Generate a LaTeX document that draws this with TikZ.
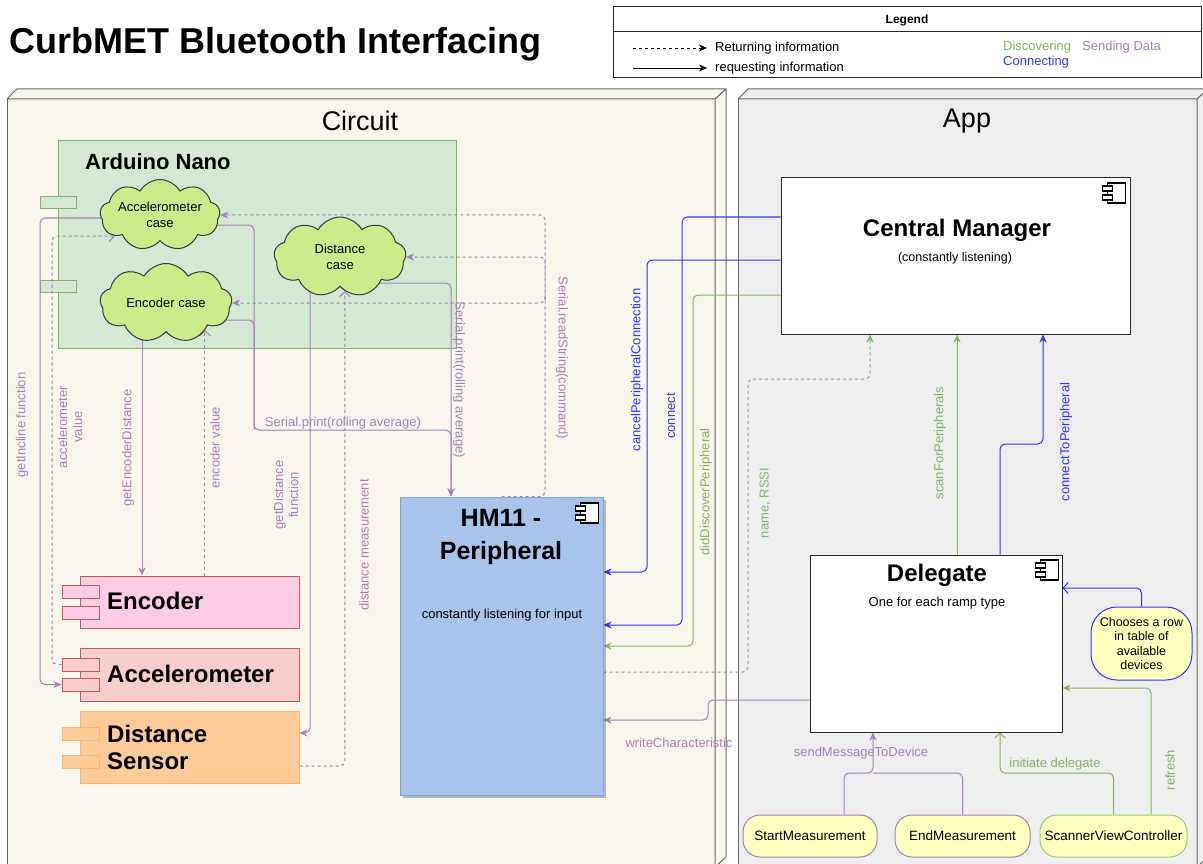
\documentclass[tikz,border=0pt]{standalone}
\usepackage{fontspec}
\setmainfont{Liberation Sans}
\usetikzlibrary{shapes.symbols,arrows.meta,shadows}
\pgfdeclarelayer{bg}
\pgfdeclarelayer{edges}
\pgfsetlayers{bg,edges,main}
\definecolor{circfill}{HTML}{F9F7ED}
\definecolor{appfill}{HTML}{EEEEEE}
\definecolor{cgray}{HTML}{666666}
\definecolor{ardfill}{HTML}{D5E8D4}
\definecolor{ardst}{HTML}{82B366}
\definecolor{cldfill}{HTML}{CDEB8B}
\definecolor{cldst}{HTML}{36393D}
\definecolor{encfill}{HTML}{FFCCE6}
\definecolor{redst}{HTML}{C65A5A}
\definecolor{accfill}{HTML}{F8CECC}
\definecolor{disfill}{HTML}{FFCC99}
\definecolor{disst}{HTML}{FFB570}
\definecolor{hmfill}{HTML}{A9C4EB}
\definecolor{hmst}{HTML}{7EA6E0}
\definecolor{ylw}{HTML}{FFFFC0}
\definecolor{cpur}{HTML}{A680B8}
\definecolor{cblu}{HTML}{3333FF}
\definecolor{cgrn}{HTML}{82B366}
\definecolor{svcst}{HTML}{97D077}
\newcommand\fsz[2]{\fontsize{#1}{#2}\selectfont}
\begin{document}
\begin{tikzpicture}[x=1pt,y=-1pt,
  tf/.style={-{Stealth[length=8pt,width=7pt,inset=2.5pt]}},
  topen/.style={-{Straight Barb[length=5pt,width=11pt]}},
  conn/.style={line width=1pt,rounded corners=5pt},
  ret/.style={dash pattern=on 3pt off 3pt},
  lbl/.style={inner sep=0pt,font=\fsz{13}{15}},
  txt/.style={inner sep=0pt},
  comp/.style={draw,line width=1pt,inner sep=0pt},
  tabbox/.style={draw,line width=1pt,inner sep=0pt,minimum width=37pt,minimum height=13pt},
  cloudbox/.style={cloud,cloud puffs=9,cloud puff arc=120,cloud ignores aspect,draw=cldst,fill=cldfill,line width=1pt,inner sep=0pt,align=center,font=\fsz{13}{15.5}},
  pill/.style={draw,line width=1pt,fill=ylw,rounded corners=17pt,inner sep=0pt,minimum height=42pt,font=\fsz{13.5}{15}},
  cont/.style={line width=1pt,draw=cgray,line join=round},
  compicon/.pic={
    \draw[line width=1.1pt,fill=white] (-6.5,-10) rectangle (11.5,10);
    \draw[line width=1.1pt,fill=white] (-11.5,-7) rectangle (-1.5,-2);
    \draw[line width=1.1pt,fill=white] (-11.5,2) rectangle (-1.5,7);
  }
]
\useasboundingbox (0,0) rectangle (1203,864);
\begin{pgfonlayer}{bg}
\fill[white] (0,0) rectangle (1203,864);
% Circuit container
\filldraw[cont,fill=circfill] (7,99) rectangle (715,870);
\filldraw[cont,fill=circfill] (7,99) -- (17,89) -- (726,89) -- (715,99) -- cycle;
\filldraw[cont,fill=circfill] (715,99) -- (726,89) -- (726,857) -- (715,867) -- cycle;
% App container
\filldraw[cont,fill=appfill] (738,99) rectangle (1197,870);
\filldraw[cont,fill=appfill] (738,99) -- (748,89) -- (1208,89) -- (1197,99) -- cycle;
\filldraw[cont,fill=appfill] (1197,99) -- (1208,89) -- (1208,857) -- (1197,867) -- cycle;
% Arduino
\node[comp,draw=ardst,fill=ardfill,minimum width=398pt,minimum height=207pt] (ard) at (257,244.5) {};
\node[tabbox,draw=ardst,fill=ardfill,minimum width=36pt,minimum height=12pt] (ardt1) at (58,203) {};
\node[tabbox,draw=ardst,fill=ardfill,minimum width=36pt,minimum height=12pt] (ardt2) at (58,286) {};
\end{pgfonlayer}

% Title and legend
\node[txt,anchor=west,font=\fsz{36}{40}\bfseries] (title) at (9,44) {CurbMET Bluetooth Interfacing};
\node[draw=black!85,line width=1pt,minimum width=588pt,minimum height=71pt,inner sep=0pt] (legend) at (907,42.5) {};
\draw[line width=1pt,black!85] (legend.west |- 0,32) -- (legend.east |- 0,32);
\node[txt,font=\fsz{12}{14}\bfseries] (legtitle) at (907,20) {Legend};
\coordinate (lr1) at (633,48);
\coordinate (lr2) at (707,48);
\coordinate (lq1) at (633,68);
\coordinate (lq2) at (707,68);
\draw[line width=0.8pt,ret,tf] (lr1) -- (lr2);
\draw[line width=0.8pt,tf] (lq1) -- (lq2);
\node[txt,anchor=west,font=\fsz{13}{15}] (legret) at (715,48) {Returning information};
\node[txt,anchor=west,font=\fsz{13}{15}] (legreq) at (715,68) {requesting information};
\node[txt,anchor=west,font=\fsz{13}{15},text=cgrn] (legdisc) at (1003,47) {Discovering};
\node[txt,anchor=west,font=\fsz{13}{15},text=cpur] (legsend) at (1082,47) {Sending Data};
\node[txt,anchor=west,font=\fsz{13}{15},text=cblu] (legconn) at (1003,62) {Connecting};

% Container labels
\node[txt,font=\fsz{27}{30}] (circuitlbl) at (360,121) {Circuit};
\node[txt,font=\fsz{27}{30}] (applbl) at (967,121) {App};
\node[txt,anchor=west,font=\fsz{22}{25}\bfseries] (ardlbl) at (85,162) {Arduino Nano};

% Clouds
\node[cloudbox,minimum width=120pt,minimum height=71pt] (acccl) at (160,215) {Accelerometer\\case};
\node[cloudbox,minimum width=132pt,minimum height=79pt] (enccl) at (166,303) {Encoder case};
\node[cloudbox,minimum width=132pt,minimum height=80pt] (discl) at (340,257) {Distance\\case};

% Sensor components
\node[comp,draw=redst,fill=encfill,minimum width=219pt,minimum height=52pt] (enc) at (189.5,602) {};
\node[tabbox,draw=redst,fill=encfill] (enct1) at (80.5,591.5) {};
\node[tabbox,draw=redst,fill=encfill] (enct2) at (80.5,612.5) {};
\node[txt,anchor=west,font=\fsz{24}{27}\bfseries] (enclbl) at (107,601) {Encoder};

\node[comp,draw=redst,fill=accfill,minimum width=219pt,minimum height=53pt] (acc) at (189.5,674.5) {};
\node[tabbox,draw=redst,fill=accfill] (acct1) at (80.5,664.5) {};
\node[tabbox,draw=redst,fill=accfill] (acct2) at (80.5,684.5) {};
\node[txt,anchor=west,font=\fsz{24}{27}\bfseries] (acclbl) at (107,674) {Accelerometer};

\node[comp,draw=disst,fill=disfill,minimum width=219pt,minimum height=72pt] (dis) at (189.5,747) {};
\node[tabbox,draw=disst,fill=disfill] (dist1) at (80.5,733.5) {};
\node[tabbox,draw=disst,fill=disfill] (dist2) at (80.5,761.5) {};
\node[txt,anchor=west,align=left,font=\fsz{24}{27}\bfseries] (dislbl) at (107,747) {Distance\\Sensor};

% HM11
\node[comp,draw=hmst,fill=hmfill,minimum width=203pt,minimum height=298pt,drop shadow={shadow xshift=3pt,shadow yshift=-3pt,fill=black,opacity=0.25}] (hm) at (501.5,646) {};
\node[txt,align=center,font=\fsz{25}{33}\bfseries] (hmlbl) at (501,537) {HM11 -\\Peripheral};
\node[txt,font=\fsz{13}{15}] (hmsub) at (502,615) {constantly listening for input};
\pic at (587,513) {compicon};

% Central manager
\node[comp,draw=black!85,fill=white,minimum width=349pt,minimum height=156pt] (cm) at (955.5,256) {};
\node[txt,font=\fsz{24}{27}\bfseries] (cmlbl) at (957,230) {Central Manager};
\node[txt,font=\fsz{12.5}{15}] (cmsub) at (955,258) {(constantly listening)};
\pic at (1114,193) {compicon};

% Delegate
\node[comp,draw=black!85,fill=white,minimum width=252pt,minimum height=177pt] (dlg) at (936,643.5) {};
\node[txt,font=\fsz{24}{27}\bfseries] (dlglbl) at (937,575) {Delegate};
\node[txt,font=\fsz{13}{15}] (dlgsub) at (937,603) {One for each ramp type};
\pic at (1047,570) {compicon};

% Chooses
\node[draw=cblu,line width=1pt,fill=ylw,rounded corners=26pt,minimum width=101pt,minimum height=73pt,inner sep=0pt,align=center,font=\fsz{12.5}{14.5}] (choose) at (1141.5,643.5) {Chooses a row\\in table of\\available\\devices};

% Bottom view controllers
\node[pill,draw=cpur,minimum width=134pt] (startm) at (810,836) {StartMeasurement};
\node[pill,draw=cpur,minimum width=135pt] (endm) at (962.5,836) {EndMeasurement};
\node[pill,draw=svcst,minimum width=147pt] (svc) at (1113.5,836) {ScannerViewController};

% Connectors
\coordinate (sjoin) at (254,430);
\coordinate (srj) at (545,300);
\coordinate (smj) at (873,773);
\begin{pgfonlayer}{edges}
\draw[conn,cpur,tf] (acccl.center |- 0,218) -| (40,400) |- (acct2.west);
\draw[conn,cpur,ret,topen] (acct1.west) -| (52,400) |- (acccl.205);
\draw[conn,cpur,tf] (enccl.center -| 142,0) -- (enc.north -| 142,0);
\draw[conn,cpur,ret,topen] (enc.north -| enccl.325) -- (enccl.325);
\draw[conn,cpur,tf] (discl.center -| 310,0) |- (dis.east |- 0,733);
\draw[conn,cpur,ret,topen] (dis.east |- 0,766) -| (discl.278);
\draw[conn,cpur,tf] (acccl.center |- 0,225) -| (sjoin) -| (hm.north -| 451,0);
\draw[conn,cpur] (enccl.center |- 0,320) -| (sjoin);
\draw[conn,cpur,tf] (discl.center |- 0,283) -| (hm.north -| 451,0);
\draw[conn,cpur,ret,tf] (hm.north) -| (srj) |- (acccl.east);
\draw[conn,cpur,ret,tf] (srj) |- (discl.east);
\draw[conn,cpur,ret,tf] (srj) |- (enccl.east);
\draw[conn,cblu,tf] (cm.west |- 0,260) -| (647,572) -- (hm.east |- 0,572);
\draw[conn,cblu,tf] (cm.west |- 0,217) -| (682,625) -- (hm.east |- 0,625);
\draw[conn,cgrn,tf] (cm.west |- 0,295) -| (693,646) -- (hm.east |- 0,646);
\draw[conn,cgrn,ret,tf] (hm.east |- 0,672) -| (748,379) -| (cm.south -| 870,0);
\draw[conn,cgrn,tf] (dlg.north -| 957,0) -- (cm.south -| 957,0);
\draw[conn,cblu,tf] (dlg.north -| 1000,0) |- (1043,444) -- (cm.south -| 1043,0);
\draw[conn,cpur,tf] (dlg.west |- 0,700) -| (708,720) -- (hm.east |- 0,720);
\draw[conn,cpur,tf] (startm.north -| 844,0) |- (smj) -- (dlg.south -| smj);
\draw[conn,cpur] (endm.north) |- (smj);
\draw[conn,cgrn,topen] (svc.north) |- (1000,773) -- (dlg.south -| 1000,0);
\draw[conn,cgrn,tf] (svc.north -| 1151,0) |- (dlg.east |- 0,688);
\draw[conn,cblu,topen] (choose.north) |- (dlg.east |- 0,588);
\end{pgfonlayer}

% Connector labels
\node[lbl,text=cpur,rotate=90] (lgi) at (22,425) {getIncline function};
\node[lbl,text=cpur,rotate=90,align=center] (lav) at (70,427) {accelerometer\\value};
\node[lbl,text=cpur,rotate=90] (led) at (128,448) {getEncoderDistance};
\node[lbl,text=cpur,rotate=90] (lev) at (215,448) {encoder value};
\node[lbl,text=cpur,rotate=90,align=center] (lgd) at (286,495) {getDistance\\function};
\node[lbl,text=cpur,rotate=90] (ldm) at (364,545) {distance measurement};
\node[lbl,text=cpur] (lsp1) at (343,423) {Serial.print(rolling average)};
\node[lbl,text=cpur,rotate=-90] (lsp2) at (459,380) {Serial.print(rolling average)};
\node[lbl,text=cpur,rotate=-90] (lsr) at (562,358) {Serial.readString(command)};
\node[lbl,text=cblu,rotate=90] (lcpc) at (637,370) {cancelPeripheralConnection};
\node[lbl,text=cblu,rotate=90] (lcon) at (671,416) {connect};
\node[lbl,text=cgrn,rotate=90] (ldd) at (706,492) {didDiscoverPeripheral};
\node[lbl,text=cgrn,rotate=90] (lnr) at (765,503) {name,\ RSSI};
\node[lbl,text=cgrn,rotate=90] (lsfp) at (940,443) {scanForPeripherals};
\node[lbl,text=cblu,rotate=90] (lctp) at (1066,442) {connectToPeripheral};
\node[lbl,text=cpur] (lwc) at (679,743) {writeCharacteristic};
\node[lbl,text=cpur] (lsm) at (861,753) {sendMessageToDevice};
\node[lbl,text=cgrn] (lid) at (1055,764) {initiate delegate};
\node[lbl,text=cgrn,rotate=90] (lref) at (1170,770) {refresh};
\end{tikzpicture}
\end{document}
